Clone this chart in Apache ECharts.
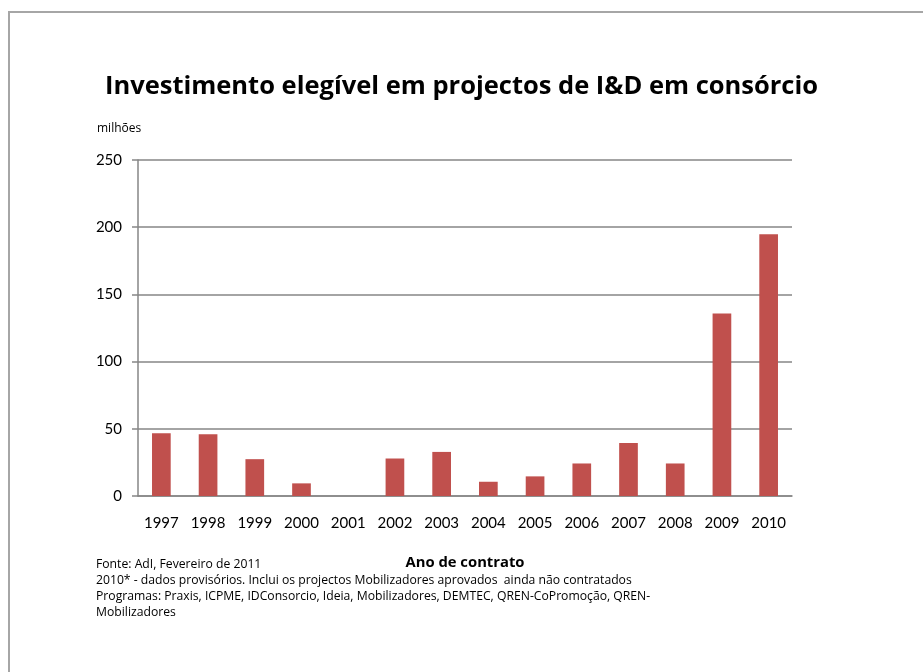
<!DOCTYPE html>
<html lang="pt">
<head>
    <meta charset="UTF-8">
    <title>Investimento elegível em projectos de I&amp;D em consórcio</title>
    <script src="https://cdn.jsdelivr.net/npm/echarts@6/dist/echarts.min.js"></script>
    <style>
        html, body { margin: 0; padding: 0; background: #fff; }
        #chart { width: 923px; height: 672px; }
    </style>
</head>
<body>
    <div id="chart"></div>
    <script>
        // dados (milhões)
        const anos = ['1997', '1998', '1999', '2000', '2001', '2002', '2003',
                      '2004', '2005', '2006', '2007', '2008', '2009', '2010'];
        const investimento = [46.6, 45.9, 27.4, 9.4, 0, 27.9, 32.8,
                              10.6, 14.6, 24.2, 39.5, 24.2, 135.7, 194.7];
        const yTicks = [0, 50, 100, 150, 200, 250];

        const notas = [
            'Fonte: AdI, Fevereiro de 2011',
            '2010* - dados provisórios. Inclui os projectos Mobilizadores aprovados  ainda não contratados',
            'Programas: Praxis, ICPME, IDConsorcio, Ideia, Mobilizadores, DEMTEC, QREN-CoPromoção, QREN-',
            'Mobilizadores'
        ];

        const fonteTexto = '"Open Sans", sans-serif';
        const fonteEixo = 'Lato, "Open Sans", sans-serif';
        const chart = echarts.init(document.getElementById('chart'));

        chart.setOption({
            animation: false,
            backgroundColor: '#fff',
            title: {
                text: 'Investimento elegível em projectos de I&D em consórcio',
                left: 'center',
                top: 69,
                textStyle: { fontFamily: fonteTexto, fontSize: 25.5, fontWeight: 'bold', color: '#000' }
            },
            grid: { left: 138, right: 131, top: 160, bottom: 176 },
            xAxis: {
                type: 'category',
                data: anos,
                name: 'Ano de contrato',
                nameLocation: 'middle',
                nameGap: 59,
                nameTextStyle: { fontFamily: fonteTexto, fontSize: 14.8, fontWeight: 'bold', color: '#000' },
                axisLine: { lineStyle: { color: '#868686', width: 1.5 } },
                axisTick: { length: 6, lineStyle: { color: '#868686', width: 1.5 } },
                axisLabel: { fontFamily: fonteEixo, fontSize: 15, color: '#000', margin: 20 }
            },
            yAxis: {
                type: 'value',
                min: yTicks[0],
                max: yTicks[yTicks.length - 1],
                interval: 50,
                axisLine: { show: true, lineStyle: { color: '#868686', width: 1.5 } },
                axisTick: { show: true, length: 6, lineStyle: { color: '#868686', width: 1.5 } },
                axisLabel: { fontFamily: fonteEixo, fontSize: 15, color: '#000', margin: 16 },
                splitLine: { lineStyle: { color: '#868686', width: 1.5 } }
            },
            series: [{
                type: 'bar',
                data: investimento,
                barWidth: '40%',
                itemStyle: { color: '#C0504D' }
            }],
            graphic: [
                {
                    type: 'rect',
                    shape: { x: 9, y: 12, width: 940, height: 700 },
                    style: { fill: 'none', stroke: '#A6A6A6', lineWidth: 2 },
                    silent: true
                },
                {
                    type: 'text',
                    x: 97,
                    y: 129,
                    style: { text: 'milhões', fontFamily: fonteTexto, fontSize: 12, fill: '#000', verticalAlign: 'middle' }
                },
                {
                    type: 'group',
                    x: 96,
                    y: 565,
                    children: notas.map((t, i) => ({
                        type: 'text',
                        x: 0,
                        y: i * 15.7,
                        style: { text: t, fontFamily: fonteTexto, fontSize: 12.2, fill: '#000', verticalAlign: 'middle' }
                    }))
                }
            ]
        });
    </script>
</body>
</html>
